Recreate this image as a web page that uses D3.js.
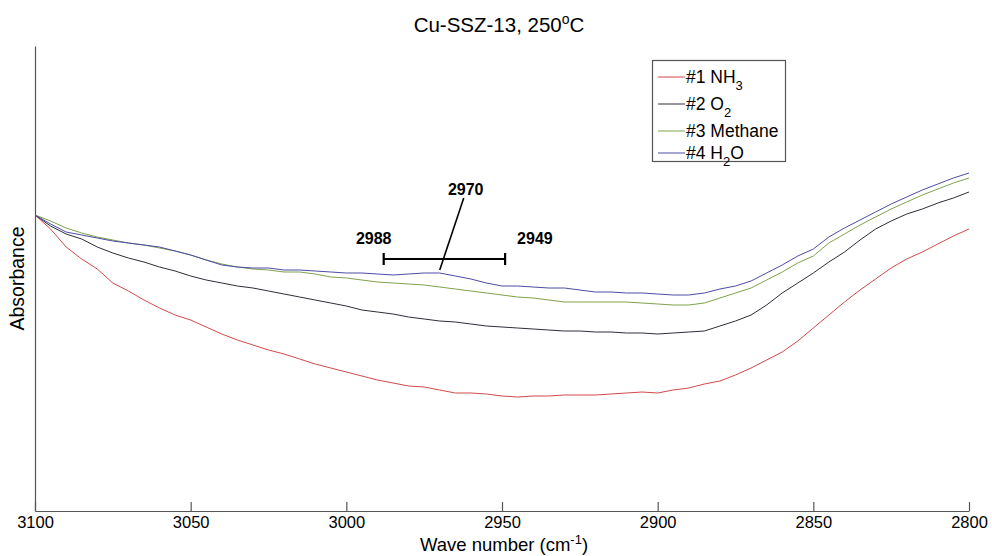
<!DOCTYPE html>
<html>
<head>
<meta charset="utf-8">
<script src="https://cdn.jsdelivr.net/npm/d3@7"></script>
<style>
  body { margin: 0; background: #fff; }
  svg { display: block; }
  text { font-family: "Liberation Sans", Arial, sans-serif; fill: #000; }
</style>
</head>
<body>
<svg id="chart" width="992" height="556"></svg>
<script>
// Wave number grid (cm^-1), sampled every 5 cm^-1 from 3100 down to 2800
const wavenumbers = d3.range(3100, 2799, -5);

// Absorbance (arbitrary units) for each feed step
const nh3 = [0.592,0.564,0.528,0.504,0.484,0.456,0.440,0.422,0.406,0.392,
             0.382,0.368,0.354,0.342,0.332,0.322,0.314,0.304,0.294,0.286,
             0.278,0.270,0.262,0.256,0.250,0.248,0.242,0.236,0.236,0.234,
             0.230,0.228,0.230,0.230,0.232,0.232,0.232,0.234,0.236,0.238,
             0.236,0.242,0.246,0.254,0.260,0.272,0.286,0.302,0.318,0.340,
             0.366,0.392,0.418,0.442,0.464,0.486,0.504,0.518,0.534,0.550,
             0.564];
const o2 = [0.592,0.570,0.554,0.544,0.528,0.516,0.506,0.498,0.488,0.480,
            0.470,0.462,0.456,0.450,0.446,0.440,0.434,0.428,0.422,0.416,
            0.410,0.402,0.398,0.394,0.388,0.384,0.380,0.378,0.374,0.370,
            0.368,0.366,0.364,0.362,0.360,0.360,0.358,0.358,0.356,0.356,
            0.354,0.356,0.358,0.360,0.370,0.380,0.392,0.412,0.436,0.456,
            0.476,0.498,0.518,0.542,0.564,0.580,0.594,0.604,0.616,0.626,
            0.638];
const methane = [0.592,0.580,0.566,0.556,0.548,0.542,0.536,0.532,0.526,0.520,
                 0.512,0.502,0.494,0.488,0.484,0.482,0.478,0.478,0.474,0.468,
                 0.466,0.462,0.458,0.456,0.454,0.452,0.448,0.444,0.440,0.436,
                 0.432,0.428,0.426,0.422,0.418,0.418,0.418,0.418,0.418,0.416,
                 0.414,0.412,0.412,0.416,0.426,0.436,0.446,0.462,0.478,0.496,
                 0.510,0.536,0.554,0.572,0.588,0.604,0.618,0.632,0.644,0.656,
                 0.666];
const h2o = [0.592,0.574,0.558,0.552,0.546,0.540,0.536,0.532,0.528,0.520,
             0.512,0.502,0.492,0.488,0.486,0.486,0.482,0.482,0.480,0.478,
             0.476,0.476,0.474,0.472,0.474,0.476,0.476,0.470,0.464,0.456,
             0.450,0.450,0.448,0.446,0.446,0.442,0.438,0.438,0.436,0.436,
             0.434,0.432,0.432,0.436,0.444,0.450,0.460,0.476,0.492,0.510,
             0.524,0.548,0.566,0.582,0.598,0.614,0.628,0.642,0.654,0.666,
             0.676];

// Legend labels; "_n" marks a subscript digit
const seriesLabels = ["#1 NH_3", "#2 O_2", "#3 Methane", "#4 H_2O"];
const seriesColors = ["#d24a4a", "#2e2e3a", "#7fa24a", "#4c4ca6"];
const seriesValues = [nh3, o2, methane, h2o];

const xTicks = [3100, 3050, 3000, 2950, 2900, 2850, 2800];

// Marked band: edges and centre position (cm^-1)
const bandLow = 2988, bandCentre = 2970, bandHigh = 2949;

const svg = d3.select("#chart");
const x = d3.scaleLinear().domain([3100, 2800]).range([35, 969]);
const y = d3.scaleLinear().domain([0, 0.93]).range([511, 46]);

// Title with superscript degree mark
const title = svg.append("text")
  .attr("x", 499).attr("y", 32)
  .attr("text-anchor", "middle")
  .style("font-size", "20.5px");
title.append("tspan").text("Cu-SSZ-13, 250");
title.append("tspan").attr("dy", -8).style("font-size", "14px").text("o");
title.append("tspan").attr("dy", 8).text("C");

// Axes
const xAxis = svg.append("g")
  .attr("transform", `translate(0,${y(0)})`)
  .call(d3.axisBottom(x).tickValues(xTicks).tickFormat(d3.format("d"))
        .tickSizeInner(-9).tickSizeOuter(0).tickPadding(5));
xAxis.select(".domain").attr("stroke", "#555").attr("stroke-width", 1.2);
xAxis.selectAll(".tick line").attr("stroke", "#555").attr("stroke-width", 1.2);
xAxis.selectAll(".tick text").style("font-size", "16.5px").attr("fill", "#000");

const yAxis = svg.append("g")
  .attr("transform", `translate(${x(3100)},0)`)
  .call(d3.axisLeft(y).tickValues([]).tickSizeOuter(0));
yAxis.select(".domain").attr("stroke", "#555").attr("stroke-width", 1.2);

// Axis titles
const xLabel = svg.append("text")
  .attr("x", 504).attr("y", 551)
  .attr("text-anchor", "middle")
  .style("font-size", "18.5px");
xLabel.append("tspan").text("Wave number (cm");
xLabel.append("tspan").attr("dy", -7).style("font-size", "13px").text("-1");
xLabel.append("tspan").attr("dy", 7).text(")");

svg.append("text")
  .attr("transform", `translate(24,${(y(0) + y(0.93)) / 2}) rotate(-90)`)
  .attr("text-anchor", "middle")
  .style("font-size", "19.5px")
  .text("Absorbance");

// Spectra
const line = d3.line()
  .x((d, i) => x(wavenumbers[i]))
  .y(d => y(d));

svg.append("g").selectAll("path")
  .data(seriesValues)
  .join("path")
  .attr("fill", "none")
  .attr("stroke", (d, i) => seriesColors[i])
  .attr("stroke-width", 1)
  .attr("stroke-linejoin", "round")
  .attr("d", line);

// Band annotation
const bandY = y(0.504);
const ann = svg.append("g").attr("stroke", "#000").attr("stroke-width", 2.2);
ann.append("line").attr("x1", x(bandLow)).attr("x2", x(bandHigh))
  .attr("y1", bandY).attr("y2", bandY);
[bandLow, bandHigh].forEach(w => {
  ann.append("line").attr("x1", x(w)).attr("x2", x(w))
    .attr("y1", bandY - 6).attr("y2", bandY + 6);
});
ann.append("line")
  .attr("x1", x(bandCentre)).attr("y1", bandY + 11)
  .attr("x2", x(bandCentre) + 24).attr("y2", bandY - 61)
  .attr("stroke-width", 1.6);

const annText = svg.append("g").style("font-size", "16px").style("font-weight", "bold");
annText.append("text").attr("x", x(bandLow) - 10).attr("y", bandY - 15)
  .attr("text-anchor", "middle").text(bandLow);
annText.append("text").attr("x", x(bandHigh) + 12).attr("y", bandY - 15)
  .attr("text-anchor", "start").text(bandHigh);
annText.append("text").attr("x", x(bandCentre) + 26).attr("y", bandY - 64)
  .attr("text-anchor", "middle").text(bandCentre);

// Legend
const legend = svg.append("g");
legend.append("rect")
  .attr("x", 652.5).attr("y", 60.5).attr("width", 133).attr("height", 101)
  .attr("fill", "#fff").attr("stroke", "#555").attr("stroke-width", 1.2);
const rowY = [77, 104, 131, 153];
seriesLabels.forEach((label, i) => {
  const g = legend.append("g");
  g.append("line").attr("x1", 658).attr("x2", 685)
    .attr("y1", rowY[i]).attr("y2", rowY[i])
    .attr("stroke", seriesColors[i]).attr("stroke-width", 1);
  const t = g.append("text").attr("x", 686).attr("y", rowY[i] + 5.5)
    .style("font-size", "17.5px");
  let shift = 0;
  label.split(/_(\d)/).forEach((part, k) => {
    if (!part) return;
    if (k % 2 === 1) {
      t.append("tspan").attr("dy", 7).style("font-size", "13px").text(part);
      shift = -7;
    } else {
      t.append("tspan").attr("dy", shift).text(part);
      shift = 0;
    }
  });
});
</script>
</body>
</html>
